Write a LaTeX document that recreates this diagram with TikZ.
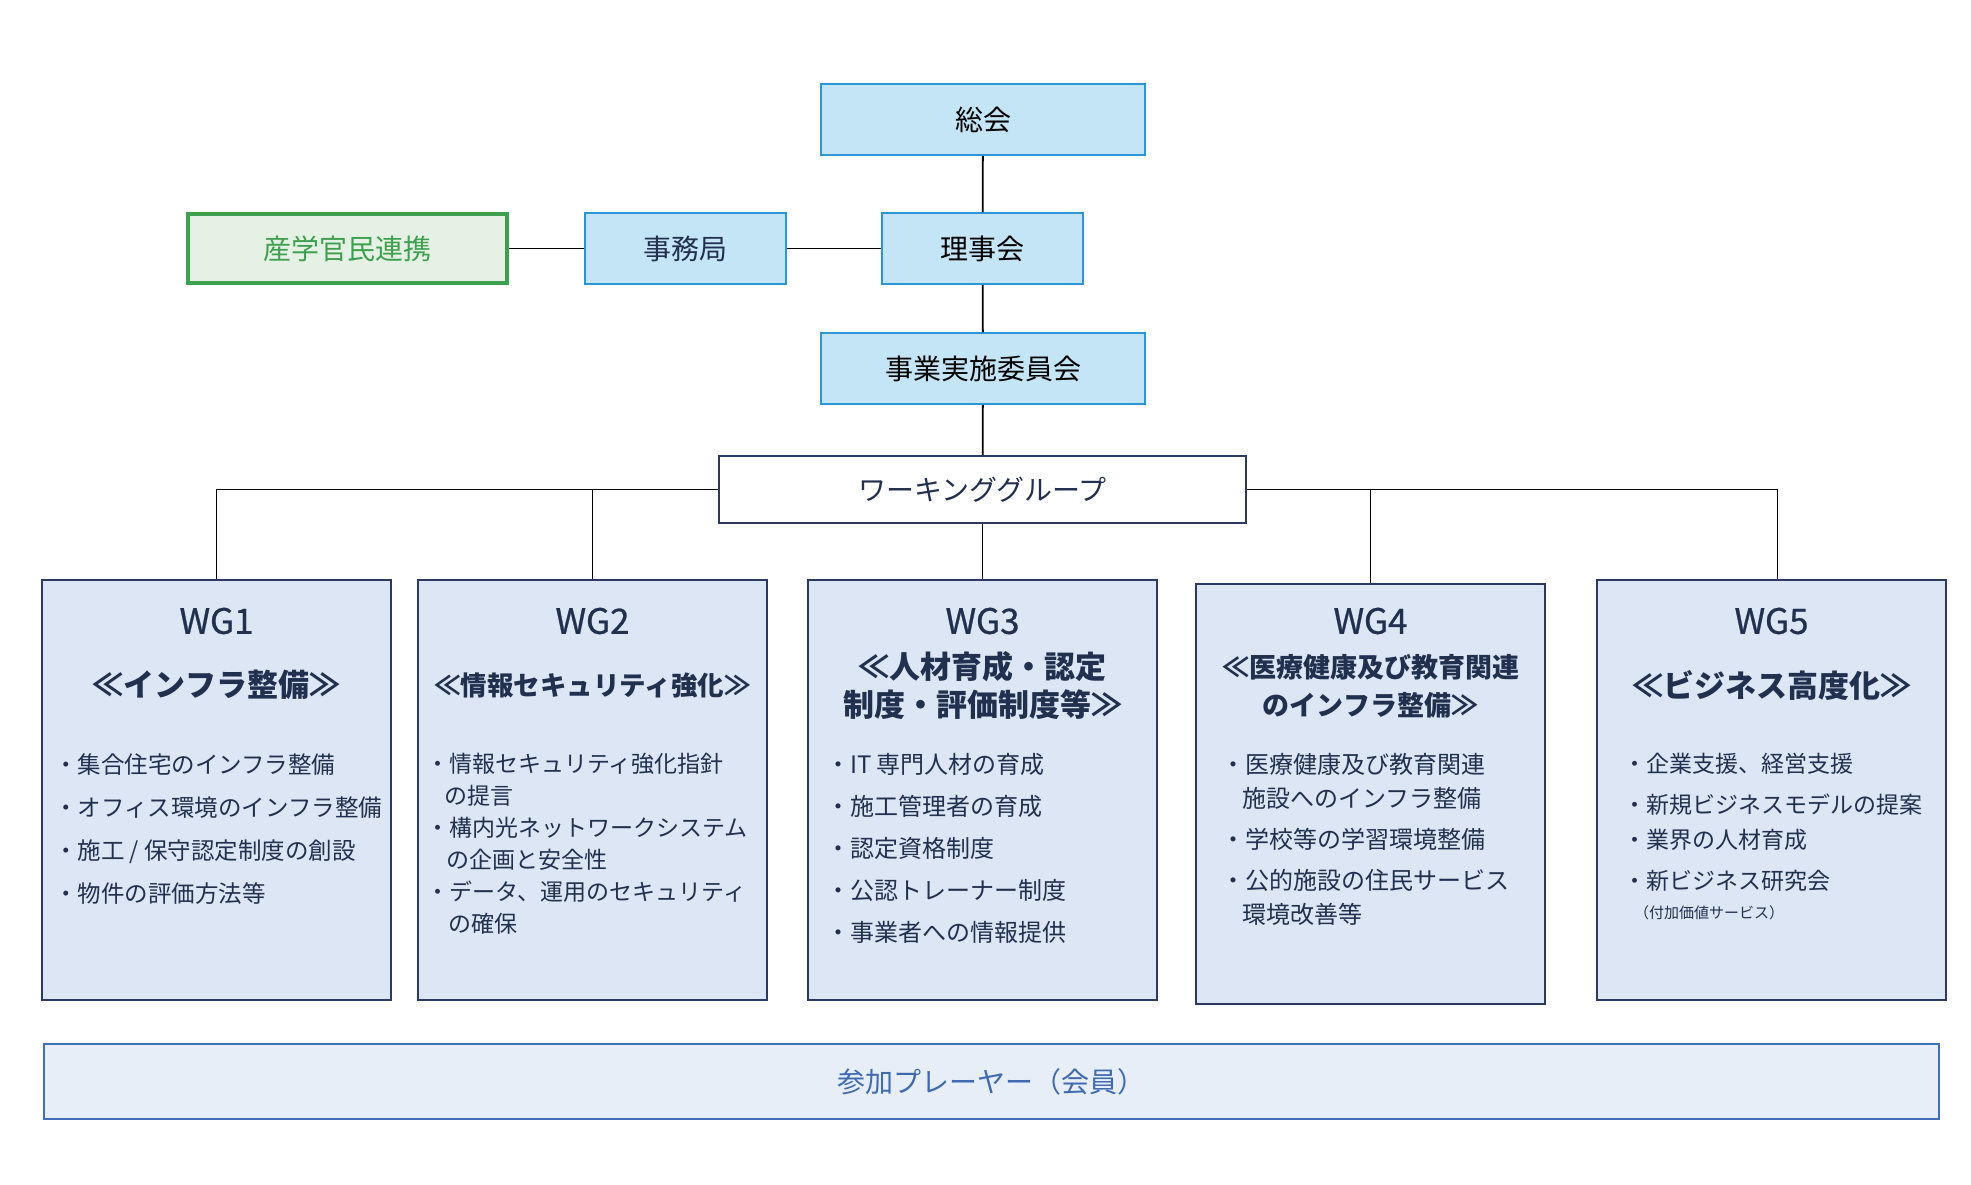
\documentclass[tikz,border=0pt]{standalone}
\usepackage{fontspec}
\setmainfont{Noto Sans CJK JP}
\newfontfamily\wgmedium{Noto Sans CJK JP}[FakeBold=0.7]
\definecolor{topfill}{HTML}{C4E5F5}
\definecolor{topline}{HTML}{2B95D6}
\definecolor{grfill}{HTML}{E5F1E4}
\definecolor{grline}{HTML}{3E9F4E}
\definecolor{navy}{HTML}{22304F}
\definecolor{wgline}{HTML}{2B3A5E}
\definecolor{wgfill}{HTML}{DCE6F4}
\definecolor{btfill}{HTML}{E7EEF8}
\definecolor{btline}{HTML}{4170B8}
\definecolor{bttext}{HTML}{3F6AB0}
\tikzset{
  topbox/.style={draw=topline, fill=topfill, line width=2pt, inner sep=0pt,
    minimum height=71pt, font=\fontsize{28}{34}\selectfont},
  wgbox/.style={draw=wgline, fill=wgfill, line width=2pt, inner sep=0pt,
    minimum width=349pt, minimum height=420pt},
  wglabel/.style={text=navy, inner sep=0pt, font=\wgmedium\fontsize{35}{40}\selectfont},
  wgtitle/.style={text=navy, inner sep=0pt, align=center},
  bul/.style={text=navy, inner sep=0pt, align=left, anchor=north west},
  conn/.style={draw=black, line width=1.8pt}
}
\begin{document}
\begin{tikzpicture}[x=1pt,y=-1pt]
\useasboundingbox (0,0) rectangle (1971,1184);
% top boxes
\node[topbox, minimum width=324pt] (sokai) at (983,119.5) {総会};
\node[topbox, minimum width=201pt] (riji) at (982.5,248.5) {理事会};
\node[topbox, minimum width=201pt, text=navy] (jimu) at (685.5,248.5) {事務局};
\node[draw=grline, fill=grfill, line width=4pt, inner sep=0pt, minimum width=319pt,
  minimum height=69pt, text=grline, font=\fontsize{28}{34}\selectfont] (sangaku) at (347.5,248.5) {産学官民連携};
\node[topbox, minimum width=324pt] (jigyo) at (983,368.5) {事業実施委員会};
\node[draw=wgline, fill=white, line width=2pt, inner sep=0pt, minimum width=527pt,
  minimum height=67pt, text=navy, font=\fontsize{28}{34}\selectfont] (wg) at (982.5,489.5) {ワーキンググループ};
% WG boxes
\node[wgbox] (wg1) at (216.5,790) {};
\node[wgbox] (wg2) at (592.5,790) {};
\node[wgbox] (wg3) at (982.5,790) {};
\node[wgbox] (wg4) at (1370.5,793.5) {};
\node[wgbox] (wg5) at (1771.5,790) {};
% bottom
\node[draw=btline, fill=btfill, line width=2pt, inner sep=0pt, minimum width=1895pt,
  minimum height=75pt, text=bttext, font=\fontsize{28}{34}\selectfont] (members) at (991.5,1081.5) {参加プレーヤー（会員）};
% connectors
\draw[conn] (sokai) -- (riji);
\draw[conn] (riji) -- (jigyo);
\draw[conn] (jigyo) -- (wg);
\draw[conn] (sangaku) -- (jimu);
\draw[conn] (jimu) -- (riji);
\draw[conn] (wg) -- (wg3);
\draw[conn] (wg.west) -| (wg1.north);
\draw[conn] (wg2.north) -- (wg2.north |- wg.west);
\draw[conn] (wg.east) -| ([xshift=6pt]wg5.north);
\draw[conn] (wg4.north) -- (wg4.north |- wg.east);
% WG labels
\node[wglabel] (l1) at (216.5,621) {WG1};
\node[wglabel] (l2) at (592.5,621) {WG2};
\node[wglabel] (l3) at (982.5,621) {WG3};
\node[wglabel] (l4) at (1370.5,621) {WG4};
\node[wglabel] (l5) at (1771.5,621) {WG5};
% titles
\node[wgtitle, font=\bfseries\fontsize{31}{38}\selectfont] (t1) at (216.5,685) {≪インフラ整備≫};
\node[wgtitle, font=\bfseries\fontsize{26.5}{38}\selectfont] (t2) at (592.5,685) {≪情報セキュリティ強化≫};
\node[wgtitle, font=\bfseries\fontsize{31}{38}\selectfont] (t3) at (982.5,686) {≪人材育成・認定\\制度・評価制度等≫};
\node[wgtitle, font=\bfseries\fontsize{27}{38}\selectfont] (t4) at (1370.5,686) {≪医療健康及び教育関連\\のインフラ整備≫};
\node[wgtitle, font=\bfseries\fontsize{31}{38}\selectfont] (t5) at (1771.5,685) {≪ビジネス高度化≫};
% bullets
\node[bul, font=\fontsize{23.5}{43}\selectfont] (b1) at (54,753) {・集合住宅のインフラ整備\\・オフィス環境のインフラ整備\\・施工 / 保守認定制度の創設\\・物件の評価方法等};
\node[bul, font=\fontsize{23}{32}\selectfont] (b2) at (426,753) {・情報セキュリティ強化指針\\\hspace*{18pt}の提言\\・構内光ネットワークシステム\\\hspace*{20pt}の企画と安全性\\・データ、運用のセキュリティ\\\hspace*{22pt}の確保};
\node[bul, font=\fontsize{24}{42}\selectfont] (b3) at (826,753) {・IT 専門人材の育成\\・施工管理者の育成\\・認定資格制度\\・公認トレーナー制度\\・事業者への情報提供};
\node[bul, font=\fontsize{24}{34}\selectfont] (b4) at (1221,753) {・医療健康及び教育関連\\\hspace*{21pt}施設へのインフラ整備\\[7pt]・学校等の学習環境整備\\[7pt]・公的施設の住民サービス\\\hspace*{21pt}環境改善等};
\node[bul, font=\fontsize{23}{35}\selectfont] (b5) at (1623,753) {・企業支援、経営支援\\[6pt]・新規ビジネスモデルの提案\\・業界の人材育成\\[6pt]・新ビジネス研究会};
\node[bul, font=\fontsize{15}{18}\selectfont] (b5s) at (1634,905) {（付加価値サービス）};
\end{tikzpicture}
\end{document}
